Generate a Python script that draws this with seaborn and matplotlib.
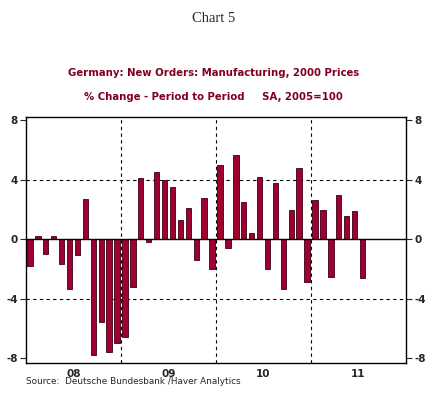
import pandas as pd
import seaborn as sns
import matplotlib.pyplot as plt

# Monthly % change, Jan 2008 - Jul 2011
months = pd.period_range('2008-01', '2011-07', freq='M').astype(str)
pct_change = [
    -1.8, 0.2, -1.0, 0.2, -1.7, -3.35, -1.1, 2.7, -7.8, -5.55, -7.6, -7.0,   # 2008
    -6.6, -3.2, 4.1, -0.2, 4.5, 4.0, 3.5, 1.3, 2.1, -1.4, 2.75, -2.0,        # 2009
    4.95, -0.6, 5.65, 2.5, 0.4, 4.15, -2.0, 3.75, -3.35, 1.95, 4.8, -2.9,    # 2010
    2.6, 1.95, -2.55, 2.95, 1.55, 1.9, -2.65,                                # 2011
]
year_labels = ['08', '09', '10', '11']

df = pd.DataFrame({'month': months, 'pct': pct_change})

sns.set_style('white')
fig = plt.figure(figsize=(4.27, 3.97), dpi=100)
ax = fig.add_axes([0.0609, 0.0856, 0.890, 0.6197])

sns.barplot(x='month', y='pct', data=df, ax=ax, color='#9E0030',
            width=0.68, edgecolor='#3a0010', linewidth=0.6, saturation=1)

ax.set_xlim(-0.5, 47.5)
ax.set_ylim(-8.33, 8.2)

# reference lines
ax.axhline(0, color='black', lw=1.0, zorder=3)
for y in [4, -4]:
    ax.axhline(y, color='black', lw=0.8, ls=(0, (3, 3)), zorder=0)
for x in [11.5, 23.5, 35.5]:
    ax.axvline(x, color='black', lw=0.8, ls=(0, (3, 3)), zorder=0)

# x axis: month ticks pointing in, year labels in between
ax.set_xticks([i - 0.5 for i in range(49)], minor=True)
ax.set_xticks([5.5, 17.5, 29.5, 41.5])
ax.set_xticklabels(year_labels, fontsize=7.5, fontweight='bold')
ax.tick_params(axis='x', which='major', length=0, pad=4)
ax.tick_params(axis='x', which='minor', direction='in', length=3, width=0.8)
ax.set_xlabel('')

# y axis on both sides
ax.set_yticks([-8, -4, 0, 4, 8])
ax.set_yticklabels(['-8', '-4', '0', '4', '8'], fontsize=7.5, fontweight='bold')
ax.tick_params(axis='y', direction='out', length=4, width=0.8,
               left=True, right=True, labelleft=True, labelright=True, pad=2)
ax.set_ylabel('')

for s in ax.spines.values():
    s.set_color('black')
    s.set_linewidth(1.0)

# titles
fig.text(0.5, 0.97, 'Chart 5', ha='center', va='top',
         fontsize=10.5, family='Liberation Serif')
fig.text(0.5, 0.817, 'Germany: New Orders: Manufacturing, 2000 Prices',
         ha='center', va='center', fontsize=7.3, fontweight='bold', color='#800020')
fig.text(0.5, 0.755, '% Change - Period to Period     SA, 2005=100',
         ha='center', va='center', fontsize=7.3, fontweight='bold', color='#800020')
fig.text(0.061, 0.038, 'Source:  Deutsche Bundesbank /Haver Analytics',
         ha='left', va='center', fontsize=6.4)

fig.savefig('out.png', dpi=100)
